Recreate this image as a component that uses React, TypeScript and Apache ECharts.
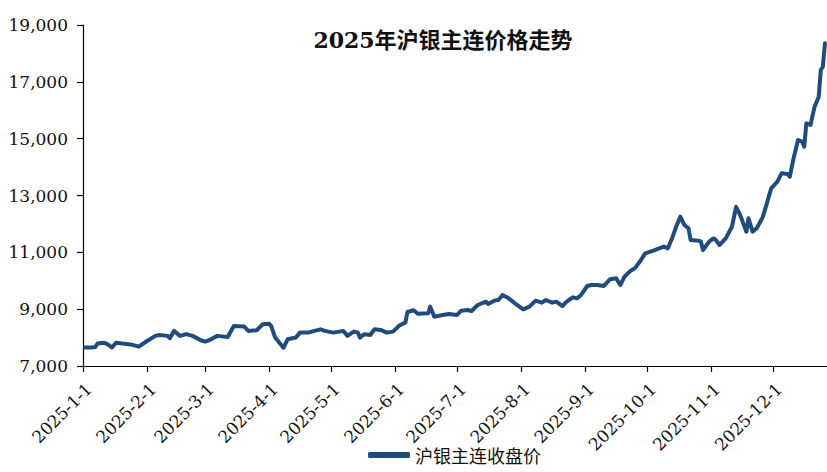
import React, { useEffect, useRef } from "react";
import * as echarts from "echarts";

const titleText = "2025年沪银主连价格走势";
const seriesName = "沪银主连收盘价";

const dates = [
  "2025-01-02", "2025-01-05", "2025-01-07", "2025-01-08", "2025-01-11", "2025-01-13", "2025-01-15", "2025-01-17",
  "2025-01-20", "2025-01-24", "2025-01-28", "2025-02-01", "2025-02-05", "2025-02-07", "2025-02-11", "2025-02-12",
  "2025-02-14", "2025-02-17", "2025-02-20", "2025-02-23", "2025-02-27", "2025-03-01", "2025-03-03", "2025-03-07",
  "2025-03-12", "2025-03-15", "2025-03-20", "2025-03-22", "2025-03-26", "2025-03-29", "2025-04-01", "2025-04-02",
  "2025-04-04", "2025-04-08", "2025-04-10", "2025-04-14", "2025-04-16", "2025-04-20", "2025-04-23", "2025-04-26",
  "2025-04-28", "2025-05-02", "2025-05-05", "2025-05-07", "2025-05-09", "2025-05-12", "2025-05-14", "2025-05-15",
  "2025-05-17", "2025-05-20", "2025-05-22", "2025-05-25", "2025-05-28", "2025-05-31", "2025-06-03", "2025-06-06",
  "2025-06-07", "2025-06-10", "2025-06-12", "2025-06-17", "2025-06-18", "2025-06-20", "2025-06-24", "2025-06-27",
  "2025-07-01", "2025-07-03", "2025-07-06", "2025-07-08", "2025-07-11", "2025-07-15", "2025-07-16", "2025-07-19",
  "2025-07-21", "2025-07-23", "2025-07-26", "2025-07-29", "2025-08-02", "2025-08-05", "2025-08-08", "2025-08-11",
  "2025-08-13", "2025-08-16", "2025-08-18", "2025-08-21", "2025-08-23", "2025-08-26", "2025-08-28", "2025-08-30",
  "2025-09-02", "2025-09-04", "2025-09-07", "2025-09-10", "2025-09-13", "2025-09-16", "2025-09-18", "2025-09-20",
  "2025-09-23", "2025-09-25", "2025-09-28", "2025-09-30", "2025-10-04", "2025-10-09", "2025-10-11", "2025-10-13",
  "2025-10-15", "2025-10-17", "2025-10-19", "2025-10-21", "2025-10-22", "2025-10-26", "2025-10-27", "2025-10-28",
  "2025-10-31", "2025-11-02", "2025-11-03", "2025-11-05", "2025-11-08", "2025-11-11", "2025-11-13", "2025-11-15",
  "2025-11-18", "2025-11-19", "2025-11-21", "2025-11-23", "2025-11-26", "2025-11-28", "2025-11-30", "2025-12-03",
  "2025-12-05", "2025-12-08", "2025-12-09", "2025-12-11", "2025-12-13", "2025-12-15", "2025-12-16", "2025-12-17",
  "2025-12-19", "2025-12-21", "2025-12-23", "2025-12-24", "2025-12-25", "2025-12-26",
];

const prices = [
  7650, 7650, 7670, 7790, 7820, 7760, 7650, 7820,
  7790, 7760, 7680, 7880, 8060, 8090, 8060, 7980,
  8235, 8060, 8120, 8060, 7905, 7860, 7905, 8060,
  8020, 8410, 8390, 8235, 8260, 8470, 8490, 8410,
  8000, 7640, 7940, 8000, 8175, 8175, 8235, 8290,
  8235, 8175, 8210, 8235, 8060, 8210, 8175, 8000,
  8120, 8090, 8290, 8270, 8175, 8210, 8420, 8530,
  8900, 8960, 8840, 8853, 9088, 8736, 8795, 8830,
  8795, 8947, 8970, 8935, 9147, 9264, 9182, 9300,
  9322, 9500, 9380, 9205, 8994, 9088, 9300, 9230,
  9322, 9230, 9264, 9111, 9264, 9416, 9380, 9500,
  9815, 9850, 9850, 9815, 10050, 10085, 9850, 10144,
  10355, 10437, 10730, 10965, 11060, 11200, 11140, 11490,
  11900, 12255, 11960, 11845, 11434, 11410, 11375, 11080,
  11375, 11490, 11455, 11260, 11490, 11900, 12600, 12310,
  11727, 12200, 11727, 11845, 12255, 12750, 13250, 13486,
  13780, 13756, 13662, 14366, 14953, 14894, 14718, 15540,
  15481, 16126, 16478, 17416, 17533, 18355,
];

const monthStarts = [
  "2025-01-01", "2025-02-01", "2025-03-01", "2025-04-01", "2025-05-01", "2025-06-01",
  "2025-07-01", "2025-08-01", "2025-09-01", "2025-10-01", "2025-11-01", "2025-12-01",
];
const monthLabels = [
  "2025-1-1", "2025-2-1", "2025-3-1", "2025-4-1", "2025-5-1", "2025-6-1",
  "2025-7-1", "2025-8-1", "2025-9-1", "2025-10-1", "2025-11-1", "2025-12-1",
];
const axisEndDate = "2025-12-27";
const yMin = 7000;
const yMax = 19000;
const yStep = 2000;

const dayIndex = (s: string) => {
  const [y, m, d] = s.split("-").map(Number);
  return Math.round((Date.UTC(y, m - 1, d) - Date.UTC(2025, 0, 1)) / 86400000);
};

export default function App() {
  const ref = useRef<HTMLDivElement>(null);
  useEffect(() => {
    if (!ref.current) return;
    const chart = echarts.init(ref.current, null, { renderer: "svg" });
    const tickDays = monthStarts.map(dayIndex);
    const data = dates.map((d, i) => [dayIndex(d), prices[i]]);
    chart.setOption({
      animation: false,
      backgroundColor: "#ffffff",
      title: {
        text: titleText,
        left: 438,
        top: 24,
        textAlign: "center",
        textStyle: {
          fontFamily: "'DejaVu Serif', 'Noto Sans CJK SC'",
          fontSize: 22,
          fontWeight: "bold",
          color: "#111",
        },
      },
      legend: {
        left: 368,
        top: 446,
        icon: "roundRect",
        itemWidth: 42,
        itemHeight: 6,
        itemGap: 4,
        padding: 0,
        textStyle: {
          fontFamily: "'Noto Sans CJK SC'",
          fontSize: 18,
          color: "#111",
        },
        data: [seriesName],
      },
      grid: { left: 83, right: 0, top: 25, bottom: 106, containLabel: false },
      xAxis: {
        type: "value",
        min: 0,
        max: dayIndex(axisEndDate),
        splitLine: { show: false },
        axisLine: { show: true, onZero: false, lineStyle: { color: "#000", width: 1.2 } },
        axisTick: {
          show: true,
          length: 6,
          customValues: tickDays,
          lineStyle: { color: "#000", width: 1.2 },
        },
        axisLabel: {
          customValues: tickDays,
          rotate: 45,
          margin: 14,
          verticalAlign: "top",
          fontFamily: "'DejaVu Serif'",
          fontSize: 17,
          color: "#111",
          formatter: (v: number) => {
            const i = tickDays.indexOf(Math.round(v));
            return i >= 0 ? monthLabels[i] : "";
          },
        },
      },
      yAxis: {
        type: "value",
        min: yMin,
        max: yMax,
        interval: yStep,
        splitLine: { show: false },
        axisLine: { show: true, lineStyle: { color: "#000", width: 1.2 } },
        axisTick: { show: true, length: 6, lineStyle: { color: "#000", width: 1.2 } },
        axisLabel: {
          margin: 15,
          fontFamily: "'DejaVu Serif'",
          fontSize: 17,
          color: "#111",
          formatter: (v: number) => v.toLocaleString("en-US"),
        },
      },
      series: [
        {
          name: seriesName,
          type: "line",
          data,
          symbol: "none",
          lineStyle: { color: "#1f4b7d", width: 4, join: "round", cap: "round" },
          itemStyle: { color: "#1f4b7d" },
        },
      ],
    });
    return () => chart.dispose();
  }, []);
  return (
    <div
      ref={ref}
      style={{ position: "fixed", left: 0, top: 0, width: 827, height: 472, background: "#fff" }}
    />
  );
}
